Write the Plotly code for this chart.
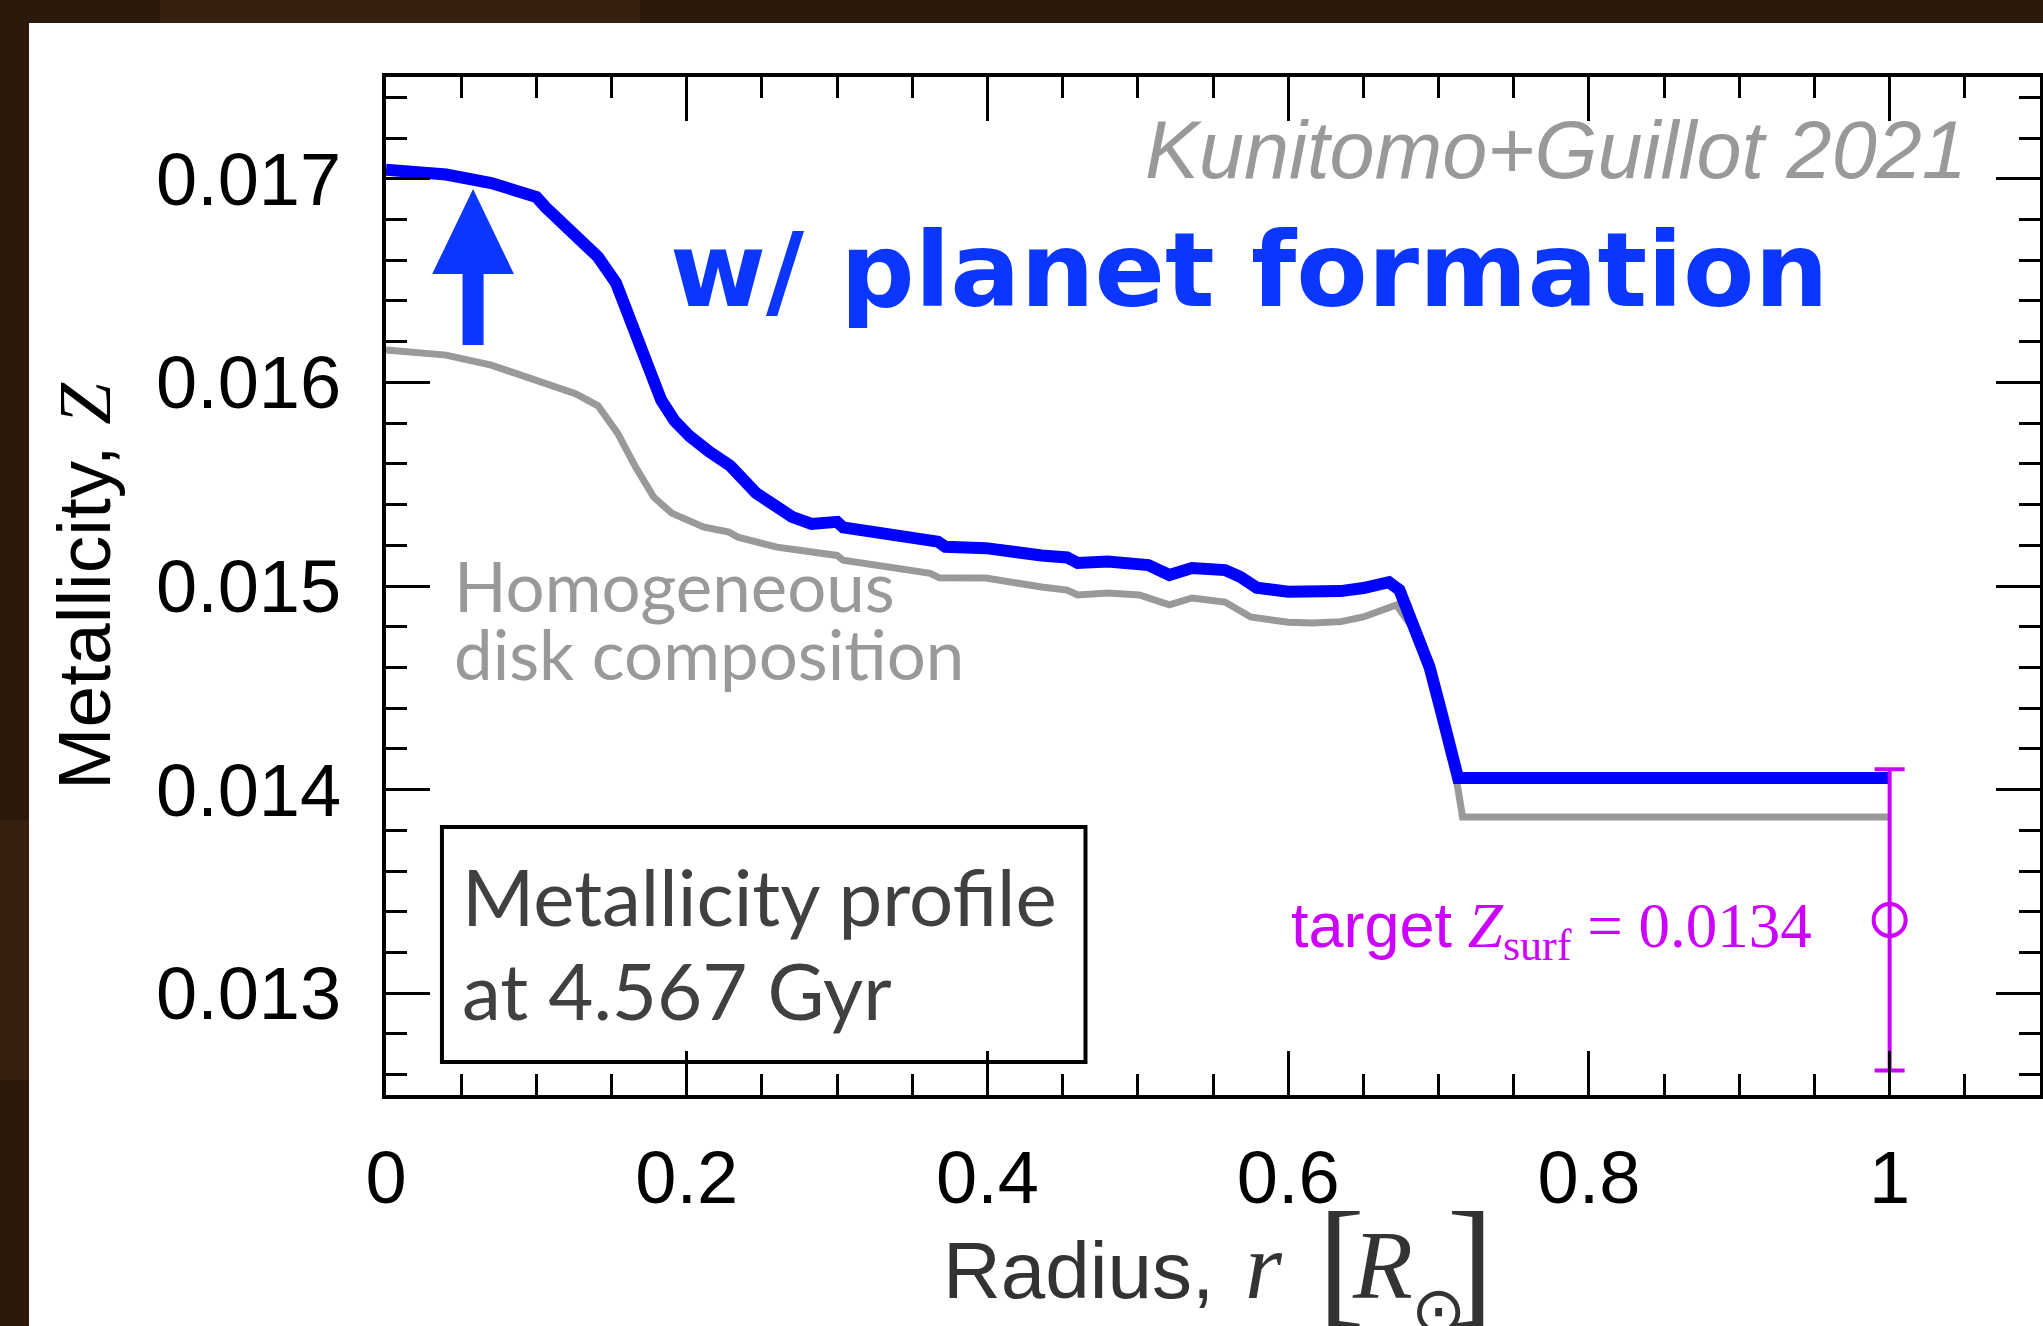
import plotly.graph_objects as go

# ---------------- data ----------------
r_planet = [0.000, 0.020, 0.040, 0.070, 0.100, 0.106, 0.118, 0.129, 0.141, 0.153,
            0.165, 0.174, 0.183, 0.192, 0.202, 0.215, 0.229, 0.246, 0.260, 0.270,
            0.283, 0.297, 0.300, 0.304, 0.328, 0.362, 0.367, 0.372, 0.399, 0.436,
            0.453, 0.460, 0.480, 0.507, 0.521, 0.536, 0.558, 0.568, 0.579, 0.600,
            0.616, 0.635, 0.650, 0.667, 0.674, 0.684, 0.694, 0.701, 0.708, 0.713,
            1.000]
z_planet = [0.017045, 0.017037, 0.017021, 0.016979, 0.016911, 0.016861, 0.016775, 0.016699, 0.016616, 0.016488,
            0.016272, 0.016076, 0.015913, 0.015810, 0.015735, 0.015660, 0.015590, 0.015457, 0.015380, 0.015340,
            0.015305, 0.015305, 0.015315, 0.015288, 0.015258, 0.015222, 0.015218, 0.015193, 0.015186, 0.015150,
            0.015140, 0.015113, 0.015120, 0.015103, 0.015054, 0.015088, 0.015078, 0.015045, 0.014992, 0.014972,
            0.014967, 0.014975, 0.014990, 0.015019, 0.014980, 0.014798, 0.014602, 0.014405, 0.014229, 0.014057,
            0.014057]

r_homog = [0.000, 0.040, 0.070, 0.100, 0.126, 0.141, 0.150, 0.154, 0.166, 0.178,
           0.190, 0.211, 0.228, 0.234, 0.260, 0.297, 0.300, 0.304, 0.362, 0.368,
           0.399, 0.436, 0.453, 0.460, 0.480, 0.501, 0.521, 0.536, 0.558, 0.575,
           0.600, 0.616, 0.635, 0.650, 0.672, 0.684, 0.694, 0.701, 0.708, 0.713,
           0.716, 1.000]
z_homog = [0.016159, 0.016134, 0.016085, 0.016012, 0.015945, 0.015885, 0.015800, 0.015751, 0.015584, 0.015437,
           0.015358, 0.015290, 0.015265, 0.015240, 0.015191, 0.015152, 0.015150, 0.015127, 0.015062, 0.015040,
           0.015039, 0.014995, 0.014980, 0.014956, 0.014965, 0.014956, 0.014907, 0.014941, 0.014921, 0.014848,
           0.014822, 0.014818, 0.014825, 0.014848, 0.014907, 0.014780, 0.014590, 0.014390, 0.014200, 0.014000,
           0.013865, 0.013865]

target_r = [1.0]
target_z = [0.01336]
target_err = [0.00074]

x_tick_vals = [0, 0.2, 0.4, 0.6, 0.8, 1.0]
x_tick_text = ["0", "0.2", "0.4", "0.6", "0.8", "1"]
y_tick_vals = [0.013, 0.014, 0.015, 0.016, 0.017]
y_tick_text = ["0.013", "0.014", "0.015", "0.016", "0.017"]

# arrow glyph (data units)
arrow_r = 0.0579
arrow_tip, arrow_base, arrow_tail = 0.016950, 0.016532, 0.016184
arrow_head_half, arrow_shaft_half = 0.0272, 0.0070

# label box (data units)
box_r0, box_r1, box_z0, box_z1 = 0.0372, 0.4652, 0.012662, 0.013816

# ---------------- layout geometry ----------------
W, H = 2043, 1326
ML, MR, MT, MB = 386, 3, 77, 231
PW, PH = W - ML - MR, H - MT - MB


def px(X):
    return (X - ML) / PW


def py(Y):
    return (H - MB - Y) / PH


BLUE = "#0000ff"
BLUE2 = "#0a36ff"
GRAY = "#999999"
MAG = "#cc00ff"

fig = go.Figure()

fig.add_trace(go.Scatter(x=r_homog, y=z_homog, mode="lines",
                         line=dict(color=GRAY, width=7), hoverinfo="skip", showlegend=False))
fig.add_trace(go.Scatter(x=r_planet, y=z_planet, mode="lines",
                         line=dict(color=BLUE, width=12), hoverinfo="skip", showlegend=False))
fig.add_trace(go.Scatter(x=target_r, y=target_z, mode="markers",
                         marker=dict(symbol="circle-open", size=32, color=MAG, line=dict(width=4, color=MAG)),
                         error_y=dict(type="data", array=target_err, color=MAG, thickness=4, width=15),
                         hoverinfo="skip", showlegend=False))

shapes = []
# dark wooden frame + white panel
shapes.append(dict(type="rect", xref="paper", yref="paper", x0=px(160), x1=px(640), y0=py(23), y1=py(0),
                   fillcolor="#36210f", line=dict(width=0), layer="below"))
shapes.append(dict(type="rect", xref="paper", yref="paper", x0=px(0), x1=px(29), y0=py(1080), y1=py(820),
                   fillcolor="#362111", line=dict(width=0), layer="below"))
shapes.append(dict(type="rect", xref="paper", yref="paper", x0=px(29), x1=px(W + 5), y0=py(H + 5), y1=py(23),
                   fillcolor="white", line=dict(width=0), layer="below"))
# arrow
a = arrow_r
path = (f"M {a - arrow_shaft_half},{arrow_tail} L {a + arrow_shaft_half},{arrow_tail} "
        f"L {a + arrow_shaft_half},{arrow_base} L {a + arrow_head_half},{arrow_base} "
        f"L {a},{arrow_tip} L {a - arrow_head_half},{arrow_base} "
        f"L {a - arrow_shaft_half},{arrow_base} Z")
shapes.append(dict(type="path", xref="x", yref="y", path=path, fillcolor=BLUE2, line=dict(width=0)))
# text box
shapes.append(dict(type="rect", xref="x", yref="y", x0=box_r0, x1=box_r1, y0=box_z0, y1=box_z1,
                   line=dict(color="black", width=4), fillcolor="rgba(0,0,0,0)"))

ann = []


def txt(text, X, Y, size, color, family, xanchor="left", weight="normal", style="normal", angle=0):
    ann.append(dict(text=text, xref="paper", yref="paper", x=px(X), y=py(Y), xanchor=xanchor,
                    yanchor="middle", showarrow=False, textangle=angle,
                    font=dict(size=size, color=color, family=family, weight=weight, style=style)))


SANS = "Liberation Sans"
SERIF = "Liberation Serif"
GILL = "Lato"

txt("Kunitomo+Guillot 2021", 1969, 178 - 0.3465 * 81, 81, GRAY, SANS, xanchor="right", style="italic")
txt("w/ planet formation", 668, 306 - 0.346 * 104, 104, BLUE2, "DejaVu Sans", weight="bold")
txt("Homogeneous", 452, 612 - 0.387 * 69, 69, GRAY, GILL)
txt("disk composi\u200ction", 452, 680 - 0.387 * 69, 69, GRAY, GILL)
txt("Metallicity profile", 460, 926 - 0.387 * 78, 78, "#404040", GILL)
txt("at 4.567 Gyr", 460, 1020 - 0.387 * 78, 78, "#404040", GILL)
txt('<span style="font-family:Liberation Sans">target</span> <i>Z</i><sub>surf</sub> = 0.0134',
    1814, 930, 63, MAG, SERIF, xanchor="right")
# y axis title
txt('Metallicity, <span style="font-family:Liberation Serif"><i>Z</i></span>', 84, 586, 75, "black", SANS,
    xanchor="center", angle=-90)
# x axis title pieces
txt("Radius,", 941, 1298 - 0.3465 * 80, 80, "#333333", SANS)
txt("<i>r</i>", 1243, 1298 - 0.3375 * 95, 95, "#333333", SERIF)
txt("[", 1316, 1308 - 0.3375 * 140, 140, "#333333", SERIF)
txt("<i>R</i>", 1350, 1298 - 0.3375 * 98, 98, "#333333", SERIF)
txt("⊙", 1438, 1310, 66, "#333333", "DejaVu Sans", xanchor="center")
txt("]", 1496, 1308 - 0.3375 * 140, 140, "#333333", SERIF, xanchor="right")

axis_common = dict(showline=True, linecolor="black", linewidth=4, mirror="ticks", ticks="inside",
                   tickcolor="black", tickwidth=3, showgrid=False, zeroline=False, automargin=False,
                   tickfont=dict(family=SANS, size=74, color="black"))

fig.update_layout(
    template="none",
    width=W, height=H, margin=dict(l=ML, r=MR, t=MT, b=MB, pad=0, autoexpand=False),
    paper_bgcolor="#2b190c", plot_bgcolor="white",
    shapes=shapes, annotations=ann, showlegend=False,
    xaxis=dict(range=[0, 1.1], tickvals=x_tick_vals, ticktext=x_tick_text, ticklen=44,
               minor=dict(dtick=0.05, tick0=0, ticklen=21, tickwidth=3, tickcolor="black", ticks="inside"),
               ticklabelstandoff=15, **axis_common),
    yaxis=dict(range=[0.0125, 0.0175], tickvals=y_tick_vals, ticktext=y_tick_text, ticklen=44,
               minor=dict(dtick=0.0002, tick0=0.0124, ticklen=21, tickwidth=3, tickcolor="black", ticks="inside"),
               ticklabelstandoff=26, **axis_common),
)

fig.write_html("out.html", config={"displayModeBar": False, "staticPlot": True},
               post_script="document.body.style.margin='0px';document.body.style.overflow='hidden';")
